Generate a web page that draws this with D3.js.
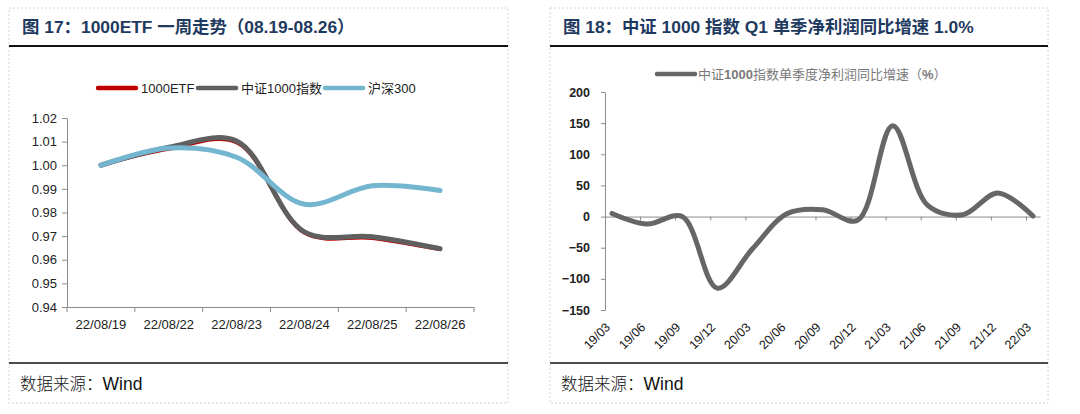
<!DOCTYPE html>
<html>
<head>
<meta charset="utf-8">
<script src="https://cdn.jsdelivr.net/npm/d3@7"></script>
<style>
  body { margin: 0; background: #fff; }
  svg { display: block; font-family: "Liberation Sans", Arial, "Noto Sans CJK SC", sans-serif; }
  .axis path, .axis line { stroke: #8c8c8c; }
  .axis text { fill: #222; }
</style>
</head>
<body>
<div id="chart"></div>
<script>
// left chart: 1000ETF week trend
var dates = ["22/08/19", "22/08/22", "22/08/23", "22/08/24", "22/08/25", "22/08/26"];
var etf = [1.000, 1.0068, 1.0095, 0.9712, 0.9690, 0.9642];
var csi1000 = [1.000, 1.0076, 1.0103, 0.9718, 0.9697, 0.9647];
var hs300 = [1.000, 1.0073, 1.0034, 0.9835, 0.9913, 0.9893];
var leftTicks = [0.94, 0.95, 0.96, 0.97, 0.98, 0.99, 1.00, 1.01, 1.02];

// right chart: CSI 1000 quarterly net profit yoy
var quarters = ["19/03", "19/06", "19/09", "19/12", "20/03", "20/06", "20/09",
                "20/12", "21/03", "21/06", "21/09", "21/12", "22/03"];
var growth = [5, -12, 0, -115, -52, 5, 11, -6, 146, 18, 3, 38, 1.0];
var rightTicks = [-150, -100, -50, 0, 50, 100, 150, 200];

var W = 1080, H = 414;
var svg = d3.select("#chart").append("svg")
  .attr("width", W).attr("height", H)
  .attr("viewBox", "0 0 " + W + " " + H);

// panel frames
var panels = [{x0: 9, x1: 508, title: "图 17：1000ETF 一周走势（08.19-08.26）"},
              {x0: 550, x1: 1048, title: "图 18：中证 1000 指数 Q1 单季净利润同比增速 1.0%"}];
panels.forEach(function (p) {
  svg.append("rect")
    .attr("x", p.x0).attr("y", 8).attr("width", p.x1 - p.x0).attr("height", 395)
    .attr("fill", "none").attr("stroke", "#d4d4d4").attr("stroke-dasharray", "2,2");
  svg.append("line").attr("x1", p.x0).attr("x2", p.x1).attr("y1", 46).attr("y2", 46)
    .attr("stroke", "#111").attr("stroke-width", 1.8);
  svg.append("line").attr("x1", p.x0).attr("x2", p.x1).attr("y1", 363).attr("y2", 363)
    .attr("stroke", "#111").attr("stroke-width", 1.5);
  svg.append("text").attr("x", p.x0 + 13).attr("y", 33)
    .attr("fill", "#1f3a60").attr("font-weight", "bold").attr("font-size", 17.4)
    .text(p.title);
  var src = svg.append("text").attr("x", p.x0 + 11).attr("y", 390)
    .attr("font-size", 17.5).attr("fill", "#111");
  src.append("tspan").attr("font-family", "Noto Sans CJK SC").attr("font-weight", 300)
    .attr("font-size", 16.5).text("数据来源：");
  src.append("tspan").text("Wind");
});

// ---------- left chart ----------
var xL = d3.scaleBand().domain(dates).range([67, 474]);
var yL = d3.scaleLinear().domain([0.94, 1.02]).range([307, 118]);

var gL = svg.append("g");
gL.append("g").attr("class", "axis")
  .attr("transform", "translate(67,0)")
  .call(d3.axisLeft(yL).tickValues(leftTicks).tickFormat(d3.format(".2f")).tickSize(5).tickSizeOuter(0))
  .call(function (g) { g.selectAll("text").attr("font-size", 13).attr("dx", -2); });

var xAxisL = gL.append("g").attr("class", "axis")
  .attr("transform", "translate(0,307)")
  .call(d3.axisBottom(xL).tickSize(0).tickSizeOuter(0));
xAxisL.selectAll("text").attr("font-size", 13).attr("dy", "1.45em");
xAxisL.selectAll(".tick-edge")
  .data(dates.concat(["end"])).enter()
  .append("line")
    .attr("stroke", "#8c8c8c")
    .attr("x1", function (d) { return d === "end" ? xL.range()[1] : xL(d); })
    .attr("x2", function (d) { return d === "end" ? xL.range()[1] : xL(d); })
    .attr("y1", 0).attr("y2", 5);

var lineL = d3.line()
  .x(function (d, i) { return xL(dates[i]) + xL.bandwidth() / 2; })
  .y(function (d) { return yL(d); })
  .curve(d3.curveCatmullRom.alpha(0.5));

var seriesL = [
  {name: "1000ETF", values: etf, color: "#c00000", width: 3},
  {name: "中证1000指数", values: csi1000, color: "#5f5f5f", width: 5},
  {name: "沪深300", values: hs300, color: "#74b5d0", width: 5}
];
seriesL.forEach(function (s) {
  gL.append("path").datum(s.values)
    .attr("d", lineL)
    .attr("fill", "none").attr("stroke", s.color)
    .attr("stroke-width", s.width).attr("stroke-linecap", "round");
});

// legend
var legL = [{x: 98}, {x: 198}, {x: 325}];
seriesL.forEach(function (s, i) {
  var lx = legL[i].x;
  gL.append("line").attr("x1", lx).attr("x2", lx + 38).attr("y1", 88).attr("y2", 88)
    .attr("stroke", s.color).attr("stroke-width", 4.5).attr("stroke-linecap", "round");
  gL.append("text").attr("x", lx + 43).attr("y", 93)
    .attr("font-size", 13).attr("fill", "#222").text(s.name);
});

// ---------- right chart ----------
var xR = d3.scaleLinear().domain([-0.2, 12.2]).range([605, 1040]);
var yR = d3.scaleLinear().domain([-150, 200]).range([310, 92]);

var gR = svg.append("g");
gR.append("g").attr("class", "axis")
  .attr("transform", "translate(605,0)")
  .call(d3.axisLeft(yR).tickValues(rightTicks).tickSize(4).tickSizeOuter(0))
  .call(function (g) {
    g.selectAll("text").attr("font-size", 12.5).attr("font-weight", "bold")
      .attr("fill", "#111").attr("dx", -8);
  });

gR.append("g").attr("class", "axis")
  .attr("transform", "translate(0," + yR(0) + ")")
  .call(d3.axisBottom(xR).tickValues(d3.range(0, 13).map(function (i) { return i - 0.2; }))
    .tickFormat("").tickSize(4).tickSizeOuter(0));

gR.selectAll(".qlabel")
  .data(quarters).enter()
  .append("text")
    .attr("class", "qlabel")
    .attr("font-size", 12.5).attr("fill", "#111")
    .attr("text-anchor", "end")
    .attr("transform", function (d, i) {
      return "translate(" + (xR(i) - 1) + ",328) rotate(-45)";
    })
    .text(function (d) { return d; });

var lineR = d3.line()
  .x(function (d, i) { return xR(i); })
  .y(function (d) { return yR(d); })
  .curve(d3.curveCatmullRom.alpha(0.5));

gR.append("path").datum(growth)
  .attr("d", lineR)
  .attr("fill", "none").attr("stroke", "#666")
  .attr("stroke-width", 5).attr("stroke-linecap", "round");

gR.append("line").attr("x1", 657).attr("x2", 695).attr("y1", 74).attr("y2", 74)
  .attr("stroke", "#666").attr("stroke-width", 4.5).attr("stroke-linecap", "round");
var legR = gR.append("text").attr("x", 698).attr("y", 79)
  .attr("font-size", 13).attr("fill", "#7a7a7a");
legR.append("tspan").text("中证");
legR.append("tspan").attr("font-weight", "bold").text("1000");
legR.append("tspan").text("指数单季度净利润同比增速（");
legR.append("tspan").attr("font-weight", "bold").text("%");
legR.append("tspan").text("）");
</script>
</body>
</html>
